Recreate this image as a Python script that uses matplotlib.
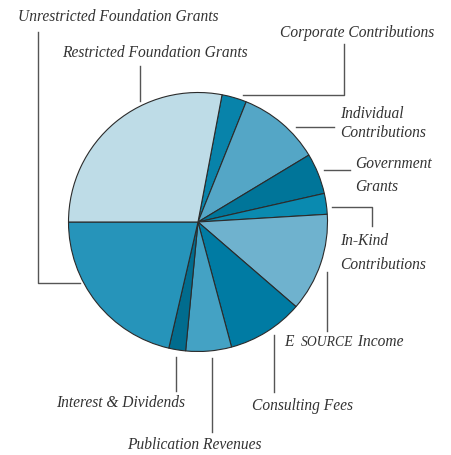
import matplotlib
matplotlib.use("Agg")
import matplotlib.pyplot as plt

# revenue shares (percent), clockwise from the top
sources = ["Corporate Contributions", "Individual Contributions", "Government Grants",
           "In-Kind Contributions", "E SOURCE Income", "Consulting Fees",
           "Publication Revenues", "Interest & Dividends",
           "Unrestricted Foundation Grants", "Restricted Foundation Grants"]
shares = [3.1, 10.3, 5.1, 2.6, 12.3, 9.5, 5.7, 2.1, 21.4, 28.0]
colors = ["#0883AA", "#54A6C6", "#007599", "#0A8AB0", "#6FB2CE",
          "#007BA3", "#44A2C4", "#016C8E", "#2694BA", "#BEDCE7"]

W, H = 452, 455
fig = plt.figure(figsize=(W / 100, H / 100), dpi=100)
ax = fig.add_axes([0, 0, 1, 1])

ax.pie(shares, colors=colors, startangle=79.3, counterclock=False,
       center=(198, H - 222), radius=129.5, frame=True,
       wedgeprops=dict(edgecolor="#2b2b2b", linewidth=0.8))
ax.set_xlim(0, W)
ax.set_ylim(0, H)
ax.set_aspect("auto")
ax.axis("off")

font = dict(family="Liberation Serif", style="italic", color="#333333", fontsize=11.2)
line = dict(color="#555555", linewidth=1.0)


def leader(xs, ys):
    ax.plot(xs, [H - y for y in ys], **line)


def label(x, y, s, **kw):
    opts = dict(font)
    opts.update(kw)
    return ax.text(x, H - y, s, va="center", ha="left", **opts)


# labels and leader lines (pixel positions from the top-left corner)
label(18, 17, "Unrestricted Foundation Grants")
leader([38, 38, 80], [32, 283, 283])

label(62, 53, "Restricted Foundation Grants")
leader([140, 140], [66, 101])

label(280, 33, "Corporate Contributions")
leader([243, 344, 344], [95, 95, 44])

label(340, 114, "Individual")
label(340, 133, "Contributions")
leader([296, 334], [127, 127])

label(355, 164, "Government")
label(355, 187, "Grants")
leader([324, 350], [170, 170])

label(340, 241, "In-Kind")
label(340, 265, "Contributions")
leader([332, 372, 372], [207, 207, 226])

# E SOURCE Income with small caps
fig.canvas.draw()
r = fig.canvas.get_renderer()
t = label(284, 342, "E  ")
x = t.get_window_extent(r).x1
t2 = ax.text(x, H - 342, "SOURCE", va="center", ha="left",
             **dict(font, fontsize=9.8))
x = t2.get_window_extent(r).x1
ax.text(x, H - 342, " Income", va="center", ha="left", **font)
leader([327, 327], [272, 331])

label(252, 406, "Consulting Fees")
leader([274, 274], [335, 392])

label(127, 445, "Publication Revenues")
leader([212, 212], [358, 432])

label(56, 403, "Interest & Dividends")
leader([176, 176], [357, 391])

fig.savefig("out.png", dpi=100)
